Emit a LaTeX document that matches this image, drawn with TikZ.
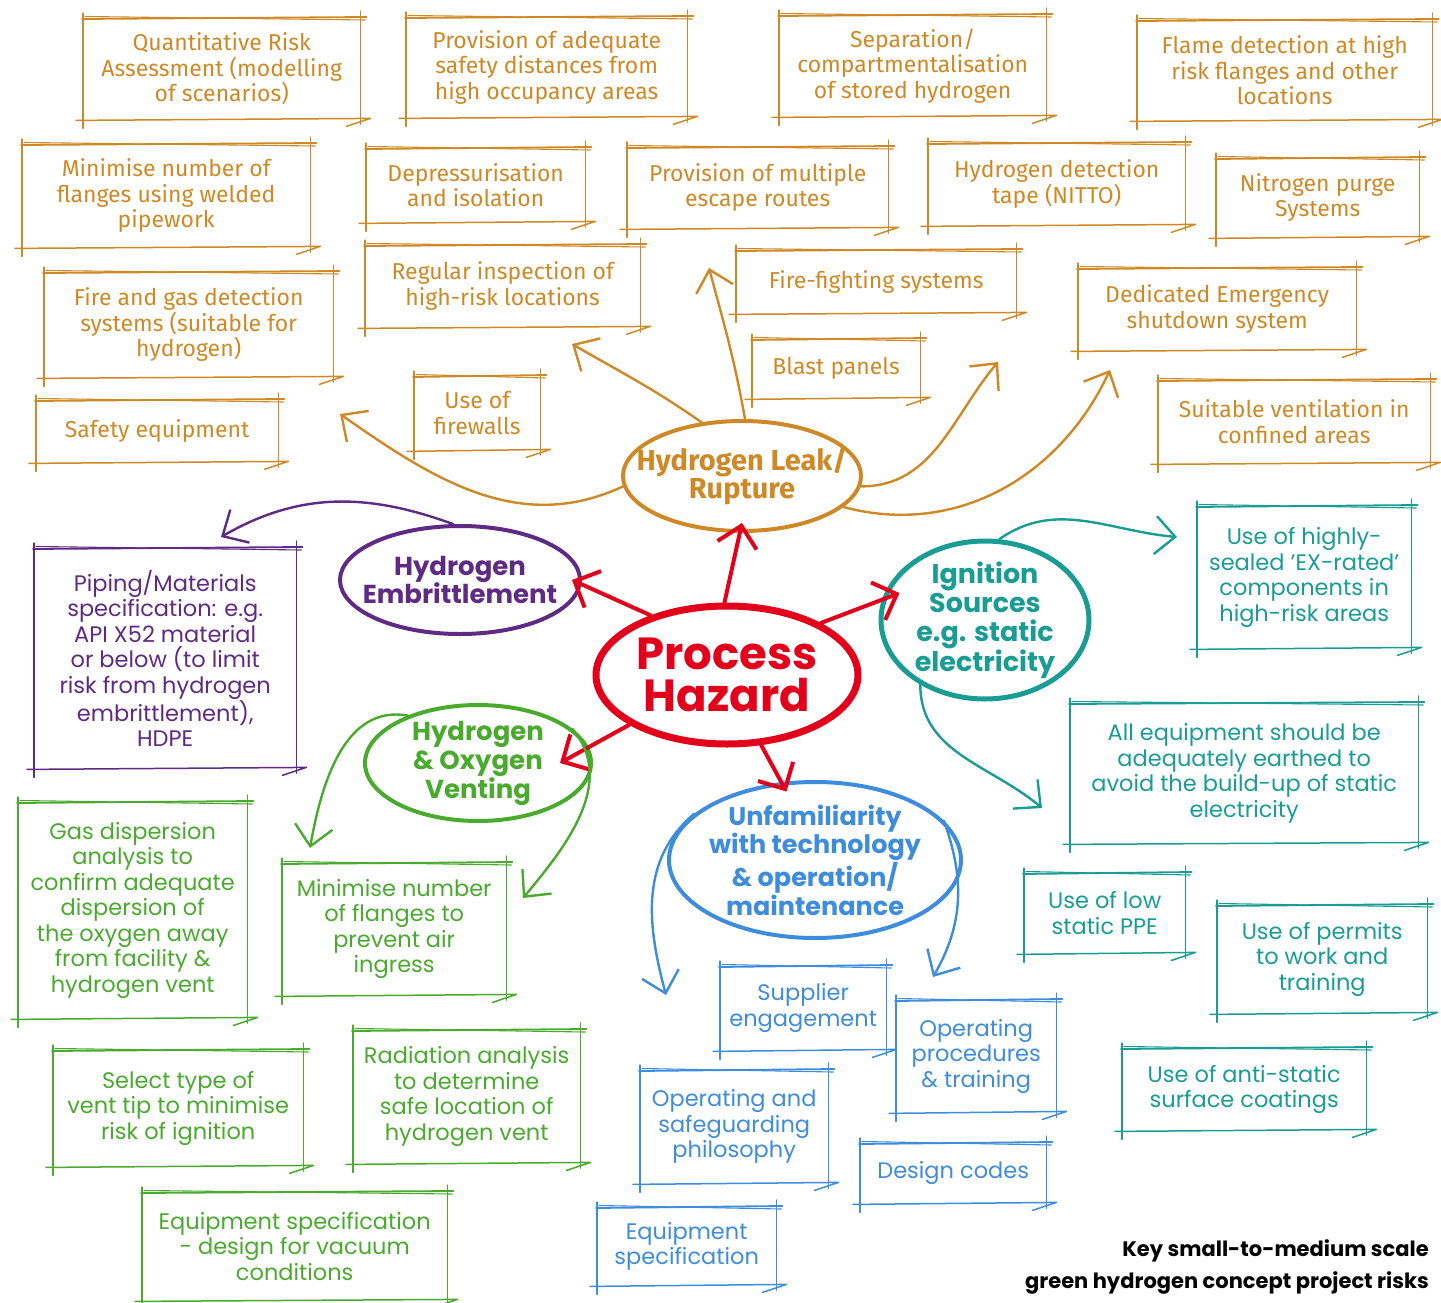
\documentclass[tikz,border=0pt]{standalone}
\usepackage{fontspec}
\setmainfont{Fira Sans}
\newfontfamily\hand{Fira Sans}
\newfontfamily\geo{Poppins}
\usetikzlibrary{shapes.geometric,arrows.meta}

\definecolor{leakc}{RGB}{206,137,38}
\definecolor{embc}{RGB}{94,42,132}
\definecolor{hazc}{RGB}{226,0,26}
\definecolor{ignc}{RGB}{24,156,148}
\definecolor{ventc}{RGB}{74,170,46}
\definecolor{unfc}{RGB}{62,140,220}

\begin{document}
\begin{tikzpicture}[x=1pt,y=-1pt,line cap=round,line join=round]
  \tikzset{ hbox/.style={anchor=north west,inner sep=0pt,align=center,text=leakc,font=\hand\fontsize{23}{25.5}\selectfont},
    gbox/.style={anchor=north west,inner sep=0pt,align=center,text=#1,font=\geo\fontsize{22.5}{25.5}\selectfont},
    hz/.style={ellipse,draw=#1,text=#1,inner xsep=-90pt,inner ysep=-70pt,align=center,font=\geo\bfseries\fontsize{26}{28.5}\selectfont},
    fromhaz/.style={draw=hazc,line width=4pt,-{Straight Barb[length=20pt,width=40pt]}},
    branch/.style={draw=#1,line width=2.4pt,-{Straight Barb[length=20pt,width=38pt]}},
  }
  \useasboundingbox (0,0) rectangle (1441,1303);

  % leak and rupture measures
  \node[hbox,minimum width=277,minimum height=101] (qra) at (83,18) {Quantitative Risk\\Assessment (modelling\\of scenarios)};
  \node[hbox,minimum width=281,minimum height=100] (safedist) at (406,17) {Provision of adequate\\safety distances from\\high occupancy areas};
  \node[hbox,minimum width=267,minimum height=101] (separ) at (779,15) {Separation/\\compartmentalisation\\of stored hydrogen};
  \node[hbox,minimum width=295,minimum height=100] (flame) at (1137,20) {Flame detection at high\\risk flanges and other\\locations};
  \node[hbox,minimum width=288,minimum height=103] (weld) at (22,144) {Minimise number of\\flanges using welded\\pipework};
  \node[hbox,minimum width=219,minimum height=74] (depress) at (366,148) {Depressurisation\\and isolation};
  \node[hbox,minimum width=261,minimum height=81] (escape) at (627,147) {Provision of multiple\\escape routes};
  \node[hbox,minimum width=257,minimum height=82] (nitto) at (928,143) {Hydrogen detection\\tape (NITTO)};
  \node[hbox,minimum width=203,minimum height=79] (purge) at (1216,158) {Nitrogen purge\\Systems};
  \node[hbox,minimum width=275,minimum height=82] (inspect) at (365,245) {Regular inspection of\\high-risk locations};
  \node[hbox,minimum width=289,minimum height=105] (fgdet) at (44,272) {Fire and gas detection\\systems (suitable for\\hydrogen)};
  \node[hbox,minimum width=280,minimum height=63] (fight) at (736,250) {Fire-fighting systems};
  \node[hbox,minimum width=278,minimum height=82] (esd) at (1078,268) {Dedicated Emergency\\shutdown system};
  \node[hbox,minimum width=242,minimum height=62] (safeq) at (36,400) {Safety equipment};
  \node[hbox,minimum width=126,minimum height=74] (firewall) at (414,376) {Use of\\firewalls};
  \node[hbox,minimum width=168,minimum height=59] (blast) at (752,339) {Blast panels};
  \node[hbox,minimum width=272,minimum height=83] (ventil) at (1158,380) {Suitable ventilation in\\confined areas};

  % the hazards
  \node[hz=leakc,minimum width=238,minimum height=110,line width=4pt,font=\hand\bfseries\fontsize{29}{28.5}\selectfont] (leak) at (742,476) {Hydrogen Leak/\\Rupture};
  \node[hz=embc,minimum width=240,minimum height=108,line width=4pt] (embr) at (460,580) {Hydrogen\\Embrittlement};
  \node[hz=hazc,minimum width=262,minimum height=138,line width=7pt,font=\geo\bfseries\fontsize{45}{42}\selectfont] (hazard) at (727,675) {Process\\Hazard};
  \node[hz=ignc,minimum width=208,minimum height=158,line width=5pt,font=\geo\bfseries\fontsize{27}{29}\selectfont] (ign) at (985,620) {Ignition\\Sources\\e.g. static\\electricity};
  \node[hz=ventc,minimum width=226,minimum height=116,line width=4pt,font=\geo\bfseries\fontsize{26}{29}\selectfont] (vent) at (478,763) {Hydrogen\\\& Oxygen\\Venting};
  \node[hz=unfc,minimum width=292,minimum height=156,line width=4pt,font=\geo\bfseries\fontsize{25.5}{29}\selectfont] (unf) at (815,860) {Unfamiliarity\\with technology\\\& operation/\\maintenance};

  % embrittlement
  \node[gbox=embc,minimum width=262,minimum height=220] (pipe) at (34,548) {Piping/Materials\\specification: e.g.\\API X52 material\\or below (to limit\\risk from hydrogen\\embrittlement),\\HDPE};

  % venting
  \node[gbox=ventc,minimum width=229,minimum height=216] (gasdisp) at (18,802) {Gas dispersion\\analysis to\\confirm adequate\\dispersion of\\the oxygen away\\from facility \&\\hydrogen vent};
  \node[gbox=ventc,minimum width=224,minimum height=132] (airin) at (282,863) {Minimise number\\of flanges to\\prevent air\\ingress};
  \node[gbox=ventc,minimum width=250,minimum height=116] (venttip) at (53,1050) {Select type of\\vent tip to minimise\\risk of ignition};
  \node[gbox=ventc,minimum width=227,minimum height=133] (radan) at (353,1030) {Radiation analysis\\to determine\\safe location of\\hydrogen vent};
  \node[gbox=ventc,minimum width=305,minimum height=108] (vacuum) at (142,1192) {Equipment specification\\- design for vacuum\\conditions};

  % unfamiliarity
  \node[gbox=unfc,minimum width=166,minimum height=84] (supplier) at (720,966) {Supplier\\engagement};
  \node[gbox=unfc,minimum width=160,minimum height=112] (opproc) at (896,1000) {Operating\\procedures\\\& training};
  \node[gbox=unfc,minimum width=188,minimum height=113] (ophil) at (640,1070) {Operating and\\safeguarding\\philosophy};
  \node[gbox=unfc,minimum width=186,minimum height=60] (dcodes) at (860,1143) {Design codes};
  \node[gbox=unfc,minimum width=179,minimum height=78] (eqspec) at (597,1207) {Equipment\\specification};

  % ignition
  \node[gbox=ignc,minimum width=214,minimum height=142] (exrated) at (1197,506) {Use of highly-\\sealed ’EX-rated’\\components in\\high-risk areas};
  \node[gbox=ignc,minimum width=348,minimum height=140] (earthed) at (1070,703) {All equipment should be\\adequately earthed to\\avoid the build-up of static\\electricity};
  \node[gbox=ignc,minimum width=161,minimum height=80] (ppe) at (1024,873) {Use of low\\static PPE};
  \node[gbox=ignc,minimum width=210,minimum height=108] (permits) at (1217,905) {Use of permits\\to work and\\training};
  \node[gbox=ignc,minimum width=244,minimum height=82] (antist) at (1122,1048) {Use of anti-static\\surface coatings};

  \node[anchor=south east,align=right,inner sep=0pt,font=\geo\bfseries\fontsize{21}{32}\selectfont] (title) at (1429,1294) {Key small-to-medium scale\\green hydrogen concept project risks};

  % rough frames round the boxes
  \foreach \n/\c in {qra/leakc,safedist/leakc,separ/leakc,flame/leakc,weld/leakc,depress/leakc,escape/leakc,nitto/leakc,purge/leakc,inspect/leakc,fgdet/leakc,fight/leakc,esd/leakc,safeq/leakc,firewall/leakc,blast/leakc,ventil/leakc,pipe/embc,gasdisp/ventc,airin/ventc,venttip/ventc,radan/ventc,vacuum/ventc,supplier/unfc,opproc/unfc,ophil/unfc,dcodes/unfc,eqspec/unfc,exrated/ignc,earthed/ignc,ppe/ignc,permits/ignc,antist/ignc}{
    \draw[\c,line width=1.3pt] ([yshift=5pt]\n.north west) -- ([yshift=-9pt]\n.south west);
    \draw[\c,line width=1.3pt] ([yshift=7pt]\n.north east) -- ([yshift=-5pt]\n.south east);
    \draw[\c,line width=1.8pt] ([xshift=-1pt,yshift=-1pt]\n.north west) -- ([xshift=6pt,yshift=1pt]\n.north east);
    \draw[\c,line width=1.1pt] ([xshift=2pt,yshift=1.5pt]\n.north west) -- ([xshift=5pt,yshift=-2pt]\n.north east);
    \draw[\c,line width=1.5pt] ([xshift=-7pt,yshift=-1pt]\n.south west) -- ([xshift=10pt,yshift=1pt]\n.south east) -- ([xshift=-14pt,yshift=-7pt]\n.south east);
  }

  % free ends of the branches
  \coordinate (lkL) at (340,414);
  \coordinate (lkRI) at (572,344);
  \coordinate (lkUp) at (709,268);
  \coordinate (lkBP) at (998,362);
  \coordinate (lkESD) at (1110,370);
  \coordinate (mbP) at (221,537);
  \coordinate (vtA) at (310,848);
  \coordinate (vtB) at (523,898);
  \coordinate (ufA) at (666,995);
  \coordinate (ufB) at (933,977);
  \coordinate (igA) at (1177,537);
  \coordinate (igB) at (1042,808);

  % red arrows from the central hazard
  \draw[fromhaz] (hazard.92) -- ([yshift=10pt]leak.south);
  \draw[fromhaz] (hazard.142) -- ([xshift=-10pt]embr.east);
  \draw[fromhaz] (hazard.29) -- ([xshift=15pt]ign.165);
  \draw[fromhaz] (hazard.207) -- ([xshift=-33pt]vent.east);
  \draw[fromhaz] (hazard.-64) -- ([yshift=-10pt]unf.110);

  % branches
  \draw[branch=leakc] (leak.185) to[out=205,in=-35] (lkL);
  \draw[branch=leakc] (leak.127) to[out=145,in=-30] (lkRI);
  \draw[branch=leakc] (leak.87) to[out=100,in=-75] (lkUp);
  \draw[branch=leakc] (leak.-5) to[out=0,in=230] (lkBP);
  \draw[branch=leakc] (leak.-17) to[out=-15,in=245] (lkESD);
  \draw[branch=embc] (embr.97) to[out=160,in=30] (mbP);
  \draw[branch=ventc] (vent.146) to[out=170,in=80] (vtA);
  \draw[branch=ventc] (vent.20) to[out=-50,in=50] (vtB);
  \draw[branch=unfc] (unf.159) to[out=220,in=105] (ufA);
  \draw[branch=unfc] (unf.17) to[out=-70,in=60] (ufB);
  \draw[branch=ignc] (ign.80) to[out=35,in=175] (igA);
  \draw[branch=ignc] (ign.225) to[out=-90,in=140] (igB);
\end{tikzpicture}
\end{document}
